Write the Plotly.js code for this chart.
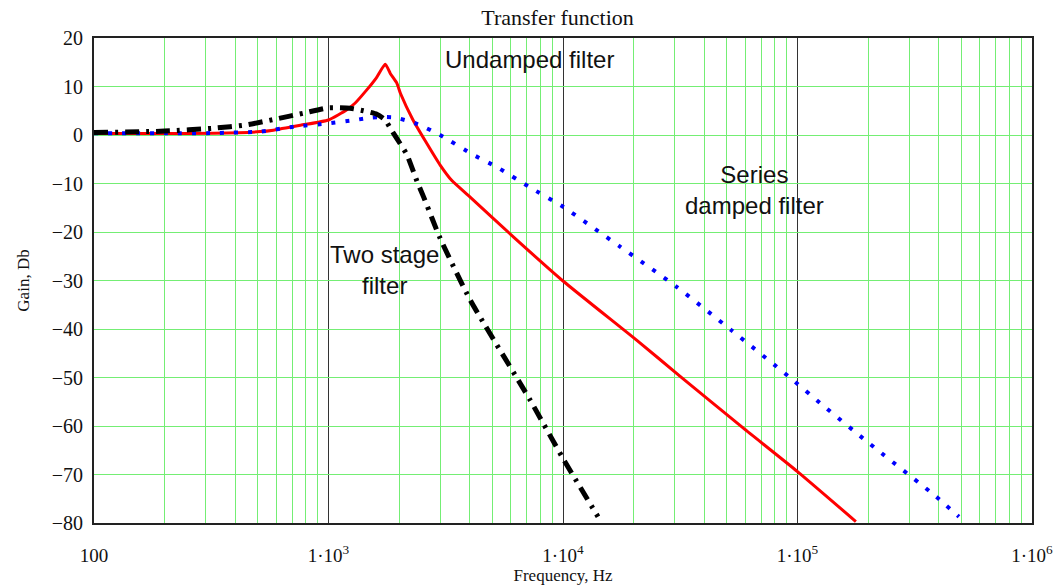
<!DOCTYPE html>
<html>
<head>
<meta charset="utf-8">
<script src="https://cdn.plot.ly/plotly-3.0.1.min.js"></script>
<style>html,body{margin:0;padding:0;background:#fff;}#chart{width:1054px;height:585px;}</style>
</head>
<body>
<div id="chart"></div>
<script>
// Undamped filter (red)
const undampedFreq = [100, 200, 324, 512, 582, 759, 1000, 1197, 1300, 1456, 1600, 1746, 1834, 1956, 2030, 2293, 2600, 2993, 3358, 4018, 6140, 10000, 20600, 31500, 58600, 100000, 177400];
const undampedGain = [0.3, 0.3, 0.35, 0.7, 1.0, 2.0, 3.1, 5.2, 6.6, 9.3, 11.8, 14.6, 12.7, 10.7, 8.5, 3.1, -1.4, -6.2, -9.4, -12.8, -21, -30.1, -42.3, -49.7, -60.4, -69.4, -79.7];

// Series damped filter (blue dotted)
const seriesFreq = [100, 200, 324, 512, 710, 1000, 1300, 1530, 1750, 1923, 2382, 2991, 4150, 5220, 7230, 10000, 17500, 30500, 52400, 91200, 128000, 200000, 391000, 488000];
const seriesGain = [0.35, 0.35, 0.4, 0.7, 1.7, 2.4, 3.1, 3.6, 3.7, 3.6, 2.3, 0, -4.1, -6.6, -10.8, -14.8, -23, -31.3, -40.3, -49.7, -55.7, -63.4, -74.6, -78.7];

// Two stage filter (black dash-dot)
const twoStageFreq = [100, 200, 324, 449, 583, 783, 1000, 1236, 1410, 1607, 1745, 1834, 1955, 2157, 2383, 2541, 2993, 4018, 7230, 10000, 14100];
const twoStageGain = [0.5, 0.8, 1.4, 2.1, 3.2, 4.5, 5.6, 5.5, 5.0, 4.3, 3.1, 1.4, -0.7, -4.0, -9.5, -12.7, -21.3, -34, -54.6, -66.7, -78.7];

// Axis ticks
const xTickVals = [100, 1000, 10000, 100000, 1000000];
const xTickText = ["100", "1\u00b710<sup>3</sup>", "1\u00b710<sup>4</sup>", "1\u00b710<sup>5</sup>", "1\u00b710<sup>6</sup>"];
const minorMultipliers = [2, 3, 4, 5, 6, 7, 8, 9];
const decades = [100, 1000, 10000, 100000];
const xMinorVals = [];
decades.forEach(d => minorMultipliers.forEach(m => xMinorVals.push(d * m)));

const green = '#74ee74';

const traces = [
  {x: undampedFreq, y: undampedGain, type: 'scatter', mode: 'lines', name: 'Undamped filter',
   line: {color: '#ff0000', width: 3, shape: 'spline', smoothing: 0.5}},
  {x: seriesFreq, y: seriesGain, type: 'scatter', mode: 'lines', name: 'Series damped filter',
   line: {color: '#0000ff', width: 4, dash: '4px,10px', shape: 'spline', smoothing: 0.5}},
  {x: twoStageFreq, y: twoStageGain, type: 'scatter', mode: 'lines', name: 'Two stage filter',
   line: {color: '#000000', width: 5, dash: '14px,7px,3px,7px', shape: 'spline', smoothing: 0.5}}
];

const annFont = {family: 'Liberation Sans, Arial, sans-serif', size: 24, color: '#111'};

const layout = {
  width: 1054, height: 585,
  margin: {l: 94, r: 22, t: 38, b: 62},
  paper_bgcolor: '#fff', plot_bgcolor: '#fff',
  showlegend: false,
  title: {text: 'Transfer function', x: 0.529, xref: 'container', xanchor: 'center',
          y: 1 - 17/585, yanchor: 'middle',
          font: {family: 'Liberation Serif, Times New Roman, serif', size: 22, color: '#111'}},
  xaxis: {
    type: 'log', range: [2, 6],
    tickvals: xTickVals, ticktext: xTickText,
    showgrid: true, gridcolor: '#333', gridwidth: 1,
    minor: {tickvals: xMinorVals, showgrid: true, gridcolor: green, gridwidth: 1, ticks: ''},
    showline: true, linecolor: '#222', linewidth: 2, mirror: true,
    ticks: '', ticklabelstandoff: 14, zeroline: false,
    tickfont: {family: 'Liberation Serif, Times New Roman, serif', size: 19, color: '#111'},
    title: {text: 'Frequency, Hz', standoff: 6,
            font: {family: 'Liberation Serif, Times New Roman, serif', size: 17, color: '#111'}}
  },
  yaxis: {
    range: [-80, 20], dtick: 10, tick0: 0,
    showgrid: true, gridcolor: green, gridwidth: 1,
    showline: true, linecolor: '#222', linewidth: 2, mirror: true,
    ticks: '', ticklabelstandoff: 5, zeroline: false,
    tickfont: {family: 'Liberation Serif, Times New Roman, serif', size: 20, color: '#111'},
    title: {text: 'Gain, Db', standoff: 18,
            font: {family: 'Liberation Serif, Times New Roman, serif', size: 17, color: '#111'}}
  },
  annotations: [
    {x: Math.log10(7230), y: 15.5, xref: 'x', yref: 'y', text: 'Undamped filter', showarrow: false,
     font: annFont, xanchor: 'center', yanchor: 'middle'},
    {x: Math.log10(1740), y: -27.8, xref: 'x', yref: 'y', text: 'Two stage<br>filter', showarrow: false,
     font: annFont, xanchor: 'center', yanchor: 'middle'},
    {x: Math.log10(65800), y: -11.3, xref: 'x', yref: 'y', text: 'Series<br>damped filter', showarrow: false,
     font: annFont, xanchor: 'center', yanchor: 'middle'}
  ]
};

Plotly.newPlot('chart', traces, layout, {displayModeBar: false, staticPlot: true});
</script>
</body>
</html>
